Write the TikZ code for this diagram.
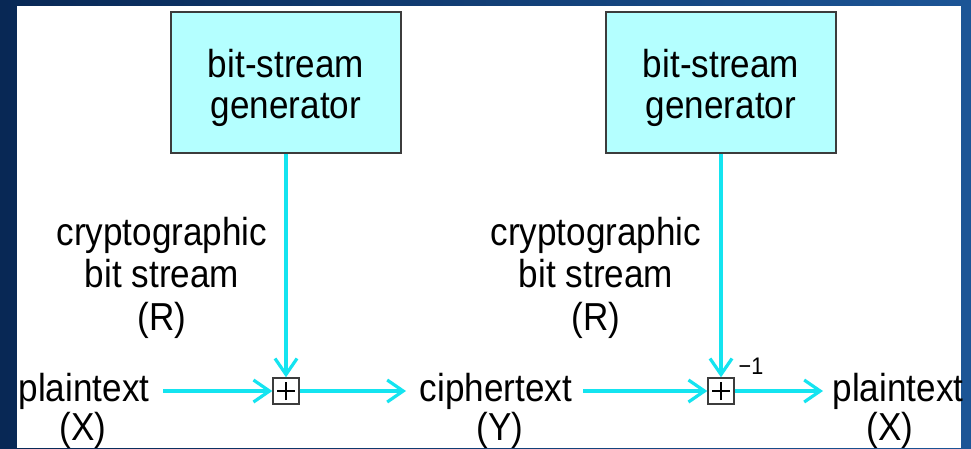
\documentclass[tikz,border=0pt]{standalone}
\usepackage{fontspec}
\setmainfont{Liberation Sans}
\newfontfamily\diagfont[FakeStretch=0.9]{Liberation Sans}
\usetikzlibrary{arrows.meta}
\definecolor{flow}{RGB}{20,228,240}
\definecolor{genfill}{RGB}{180,255,255}
\definecolor{edgegray}{RGB}{60,60,60}
\definecolor{bgL}{RGB}{8,40,85}
\definecolor{bgR}{RGB}{28,85,150}
\begin{document}
\begin{tikzpicture}[x=1pt,y=-1pt,
  gen/.style={draw=edgegray, line width=1.5pt, fill=genfill, minimum width=230pt, minimum height=141pt, inner sep=0pt},
  xorbox/.style={draw=edgegray, line width=1.4pt, fill=white, minimum size=26pt, inner sep=0pt},
  txt/.style={font=\diagfont\fontsize{39}{42}\selectfont, inner sep=0pt, anchor=base},
  suptxt/.style={font=\diagfont\fontsize{24}{26}\selectfont, inner sep=0pt, anchor=base},
  flowarrow/.style={draw=flow, line width=3.2pt, -{Straight Barb[length=16pt,width=22pt]}},
  plusline/.style={draw=black, line width=1.8pt},
]
\shade[left color=bgL, right color=bgR] (0,0) rectangle (971,448);
\fill[white] (17,6) rectangle (961,448);
\useasboundingbox (0,0) rectangle (971,448);

% generators
\node[gen] (gen1) at (286,82.5) {};
\node[txt] (gen1a) at (286,77) {bit-stream};
\node[txt] (gen1b) at (286,118) {generator};
\node[gen] (gen2) at (721,82.5) {};
\node[txt] (gen2a) at (721,77) {bit-stream};
\node[txt] (gen2b) at (721,118) {generator};

% xor boxes
\node[xorbox] (xor1) at (286,391) {};
\draw[plusline] ([xshift=-9pt]xor1.center) -- ([xshift=9pt]xor1.center);
\draw[plusline] ([yshift=-9pt]xor1.center) -- ([yshift=9pt]xor1.center);
\node[xorbox] (xor2) at (721,391) {};
\draw[plusline] ([xshift=-9pt]xor2.center) -- ([xshift=9pt]xor2.center);
\draw[plusline] ([yshift=-9pt]xor2.center) -- ([yshift=9pt]xor2.center);
\node[suptxt] (inv) at (751,374) {−1};

% labels
\node[txt] (r1a) at (162,245) {cryptographic};
\node[txt] (r1b) at (162,287) {bit stream};
\node[txt] (r1c) at (162,330) {(R)};
\node[txt] (r2a) at (596,245) {cryptographic};
\node[txt] (r2b) at (596,287) {bit stream};
\node[txt] (r2c) at (596,330) {(R)};

\node[txt] (p1) at (84,401) {plaintext};
\node[txt] (p1x) at (83,440) {(X)};
\node[txt] (c1) at (496,401) {ciphertext};
\node[txt] (c1y) at (500,440) {(Y)};
\node[txt] (p2) at (898,401) {plaintext};
\node[txt] (p2x) at (890,440) {(X)};

% connectors
\draw[flowarrow] (gen1.south) -- (xor1.north);
\draw[flowarrow] (gen2.south) -- (xor2.north);
\coordinate (a1s) at (163,391);
\coordinate (a2e) at (406,391);
\coordinate (a3s) at (583,391);
\coordinate (a4e) at (823,391);
\draw[flowarrow] (a1s) -- (xor1.west);
\draw[flowarrow] (xor1.east) -- (a2e);
\draw[flowarrow] (a3s) -- (xor2.west);
\draw[flowarrow] (xor2.east) -- (a4e);
\end{tikzpicture}
\end{document}
